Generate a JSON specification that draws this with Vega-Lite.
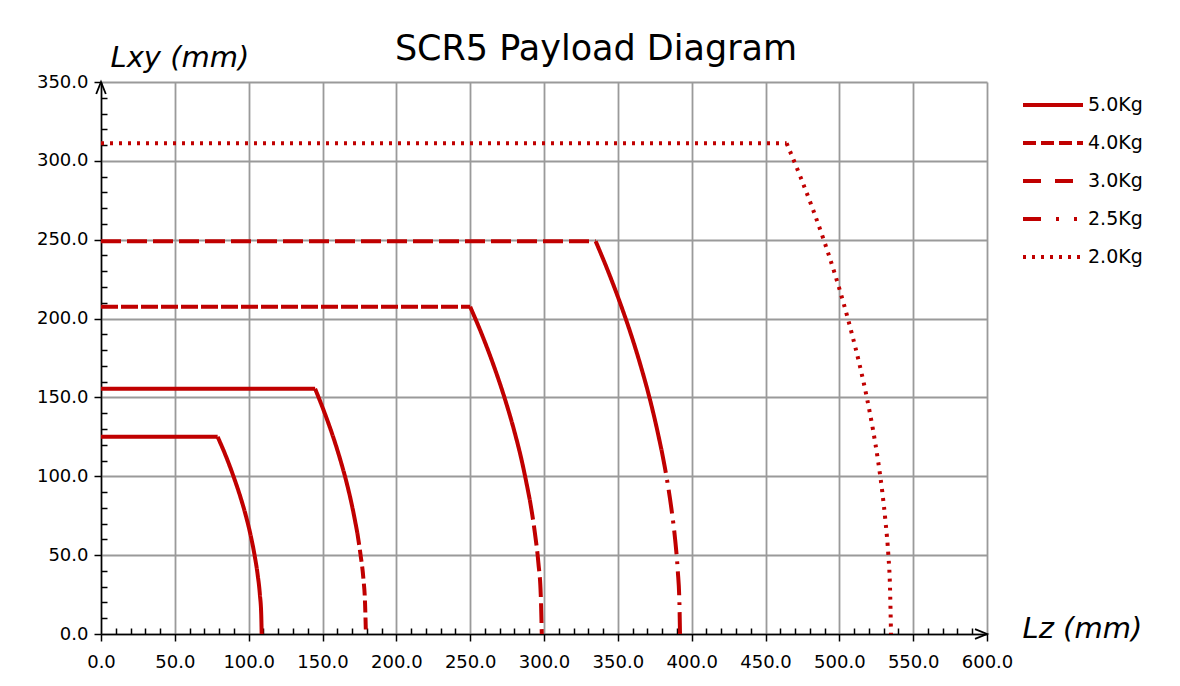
{
  "$schema": "https://vega.github.io/schema/vega-lite/v6.json",
  "width": 886,
  "height": 552,
  "autosize": {"type": "none"},
  "padding": {"left": 101, "top": 82, "right": 193, "bottom": 52},
  "background": "white",
  "title": {"text": "SCR5 Payload Diagram", "font": "DejaVu Sans", "fontSize": 35, "fontWeight": "normal", "color": "black", "anchor": "middle", "frame": "group", "dx": 52, "dy": 28, "baseline": "alphabetic", "offset": -24},
  "config": {
    "font": "DejaVu Sans",
    "view": {"stroke": null}
  },
  "layer": [
    {
      "data": {"values": [
        {"load": "5.0Kg", "part": "flat", "i": 0, "lz": 0, "lxy": 125},
        {"load": "5.0Kg", "part": "flat", "i": 1, "lz": 79, "lxy": 125},
        {"load": "5.0Kg", "part": "tail", "i": 1, "lz": 79, "lxy": 125},
        {"load": "5.0Kg", "part": "tail", "i": 2, "lz": 84.7, "lxy": 112.5},
        {"load": "5.0Kg", "part": "tail", "i": 3, "lz": 89.7, "lxy": 100},
        {"load": "5.0Kg", "part": "tail", "i": 4, "lz": 94.2, "lxy": 87.5},
        {"load": "5.0Kg", "part": "tail", "i": 5, "lz": 98.1, "lxy": 75},
        {"load": "5.0Kg", "part": "tail", "i": 6, "lz": 101.35, "lxy": 62.5},
        {"load": "5.0Kg", "part": "tail", "i": 7, "lz": 104.0, "lxy": 50},
        {"load": "5.0Kg", "part": "tail", "i": 8, "lz": 106.1, "lxy": 37.5},
        {"load": "5.0Kg", "part": "tail", "i": 9, "lz": 107.6, "lxy": 25},
        {"load": "5.0Kg", "part": "tail", "i": 10, "lz": 108.5, "lxy": 12.5},
        {"load": "5.0Kg", "part": "tail", "i": 11, "lz": 108.8, "lxy": 0},
        {"load": "4.0Kg", "part": "flat", "i": 0, "lz": 0, "lxy": 155.5},
        {"load": "4.0Kg", "part": "flat", "i": 1, "lz": 145, "lxy": 155.5},
        {"load": "4.0Kg", "part": "curve", "i": 1, "lz": 145, "lxy": 155.5},
        {"load": "4.0Kg", "part": "curve", "i": 2, "lz": 151.5, "lxy": 140},
        {"load": "4.0Kg", "part": "curve", "i": 3, "lz": 157.2, "lxy": 125},
        {"load": "4.0Kg", "part": "curve", "i": 4, "lz": 162.2, "lxy": 110},
        {"load": "4.0Kg", "part": "curve", "i": 5, "lz": 166.6, "lxy": 95},
        {"load": "4.0Kg", "part": "curve", "i": 6, "lz": 170.3, "lxy": 80},
        {"load": "4.0Kg", "part": "curve", "i": 7, "lz": 173.6, "lxy": 64},
        {"load": "4.0Kg", "part": "tail", "i": 7, "lz": 173.6, "lxy": 64},
        {"load": "4.0Kg", "part": "tail", "i": 8, "lz": 175.8, "lxy": 50},
        {"load": "4.0Kg", "part": "tail", "i": 9, "lz": 177.7, "lxy": 35},
        {"load": "4.0Kg", "part": "tail", "i": 10, "lz": 178.8, "lxy": 20},
        {"load": "4.0Kg", "part": "tail", "i": 11, "lz": 179.4, "lxy": 0},
        {"load": "3.0Kg", "part": "flat", "i": 0, "lz": 0, "lxy": 207.5},
        {"load": "3.0Kg", "part": "flat", "i": 1, "lz": 250, "lxy": 207.5},
        {"load": "3.0Kg", "part": "curve", "i": 1, "lz": 250, "lxy": 207.5},
        {"load": "3.0Kg", "part": "curve", "i": 2, "lz": 257.9, "lxy": 190},
        {"load": "3.0Kg", "part": "curve", "i": 3, "lz": 266.0, "lxy": 170},
        {"load": "3.0Kg", "part": "curve", "i": 4, "lz": 273.2, "lxy": 150},
        {"load": "3.0Kg", "part": "curve", "i": 5, "lz": 279.5, "lxy": 130},
        {"load": "3.0Kg", "part": "curve", "i": 6, "lz": 284.9, "lxy": 110},
        {"load": "3.0Kg", "part": "curve", "i": 7, "lz": 290.4, "lxy": 85},
        {"load": "3.0Kg", "part": "tail", "i": 7, "lz": 290.4, "lxy": 85},
        {"load": "3.0Kg", "part": "tail", "i": 8, "lz": 293.7, "lxy": 65},
        {"load": "3.0Kg", "part": "tail", "i": 9, "lz": 296.2, "lxy": 45},
        {"load": "3.0Kg", "part": "tail", "i": 10, "lz": 297.8, "lxy": 25},
        {"load": "3.0Kg", "part": "tail", "i": 11, "lz": 298.5, "lxy": 0},
        {"load": "2.5Kg", "part": "flat", "i": 0, "lz": 0, "lxy": 249},
        {"load": "2.5Kg", "part": "flat", "i": 1, "lz": 335, "lxy": 249},
        {"load": "2.5Kg", "part": "curve", "i": 1, "lz": 335, "lxy": 249},
        {"load": "2.5Kg", "part": "curve", "i": 2, "lz": 343.4, "lxy": 230},
        {"load": "2.5Kg", "part": "curve", "i": 3, "lz": 351.5, "lxy": 210},
        {"load": "2.5Kg", "part": "curve", "i": 4, "lz": 358.9, "lxy": 190},
        {"load": "2.5Kg", "part": "curve", "i": 5, "lz": 365.5, "lxy": 170},
        {"load": "2.5Kg", "part": "curve", "i": 6, "lz": 371.4, "lxy": 150},
        {"load": "2.5Kg", "part": "curve", "i": 7, "lz": 375.3, "lxy": 135},
        {"load": "2.5Kg", "part": "curve", "i": 8, "lz": 379.5, "lxy": 117},
        {"load": "2.5Kg", "part": "tail", "i": 8, "lz": 379.5, "lxy": 117},
        {"load": "2.5Kg", "part": "tail", "i": 9, "lz": 382.9, "lxy": 100},
        {"load": "2.5Kg", "part": "tail", "i": 10, "lz": 386.2, "lxy": 80},
        {"load": "2.5Kg", "part": "tail", "i": 11, "lz": 388.8, "lxy": 60},
        {"load": "2.5Kg", "part": "tail", "i": 12, "lz": 390.6, "lxy": 40},
        {"load": "2.5Kg", "part": "tail", "i": 13, "lz": 391.7, "lxy": 20},
        {"load": "2.5Kg", "part": "tail", "i": 14, "lz": 392.1, "lxy": 0},
        {"load": "2.0Kg", "part": "flat", "i": 0, "lz": 0, "lxy": 311.2},
        {"load": "2.0Kg", "part": "flat", "i": 1, "lz": 464.3, "lxy": 311.2},
        {"load": "2.0Kg", "part": "tail", "i": 1, "lz": 464.3, "lxy": 311.2},
        {"load": "2.0Kg", "part": "tail", "i": 2, "lz": 473.6, "lxy": 290},
        {"load": "2.0Kg", "part": "tail", "i": 3, "lz": 481.8, "lxy": 270},
        {"load": "2.0Kg", "part": "tail", "i": 4, "lz": 489.4, "lxy": 250},
        {"load": "2.0Kg", "part": "tail", "i": 5, "lz": 496.4, "lxy": 230},
        {"load": "2.0Kg", "part": "tail", "i": 6, "lz": 502.8, "lxy": 210},
        {"load": "2.0Kg", "part": "tail", "i": 7, "lz": 508.6, "lxy": 190},
        {"load": "2.0Kg", "part": "tail", "i": 8, "lz": 513.9, "lxy": 170},
        {"load": "2.0Kg", "part": "tail", "i": 9, "lz": 518.6, "lxy": 150},
        {"load": "2.0Kg", "part": "tail", "i": 10, "lz": 522.7, "lxy": 130},
        {"load": "2.0Kg", "part": "tail", "i": 11, "lz": 526.2, "lxy": 110},
        {"load": "2.0Kg", "part": "tail", "i": 12, "lz": 529.1, "lxy": 90},
        {"load": "2.0Kg", "part": "tail", "i": 13, "lz": 531.4, "lxy": 70},
        {"load": "2.0Kg", "part": "tail", "i": 14, "lz": 533.2, "lxy": 50},
        {"load": "2.0Kg", "part": "tail", "i": 15, "lz": 534.3, "lxy": 30},
        {"load": "2.0Kg", "part": "tail", "i": 16, "lz": 535, "lxy": 0}
      ]},
      "mark": {"type": "line", "color": "#c00000", "strokeWidth": 4, "strokeJoin": "round", "interpolate": "monotone", "clip": false},
      "encoding": {
        "x": {
          "field": "lz", "type": "quantitative",
          "scale": {"domain": [0, 600], "nice": false, "zero": false},
          "axis": {
            "values": [0,10,20,30,40,50,60,70,80,90,100,110,120,130,140,150,160,170,180,190,200,210,220,230,240,250,260,270,280,290,300,310,320,330,340,350,360,370,380,390,400,410,420,430,440,450,460,470,480,490,500,510,520,530,540,550,560,570,580,590,600],
            "tickCount": 200,
            "labelExpr": "datum.value % 50 === 0 ? format(datum.value, '.1f') : ''",
            "labelFont": "DejaVu Sans", "labelFontSize": 18, "labelColor": "black", "labelPadding": 12, "labelFlush": false, "labelOverlap": false,
            "domainColor": "black", "domainWidth": 1.5,
            "tickColor": "black", "tickWidth": 1.5,
            "tickSize": {"condition": {"test": "datum.value % 50 === 0", "value": 7}, "value": -6},
            "grid": true,
            "gridColor": "#9a9a9a", "gridWidth": 1.8,
            "gridOpacity": {"condition": {"test": "datum.value % 50 === 0", "value": 1}, "value": 0},
            "title": "Lz (mm)", "titleFont": "DejaVu Sans", "titleFontSize": 29, "titleFontStyle": "italic", "titleFontWeight": "normal", "titleColor": "black",
            "titleAnchor": "start", "titleAlign": "left", "titleBaseline": "alphabetic", "titleX": 921, "titleY": 3
          }
        },
        "y": {
          "field": "lxy", "type": "quantitative",
          "scale": {"domain": [0, 350], "nice": false, "zero": false},
          "axis": {
            "values": [0,10,20,30,40,50,60,70,80,90,100,110,120,130,140,150,160,170,180,190,200,210,220,230,240,250,260,270,280,290,300,310,320,330,340,350],
            "tickCount": 200,
            "labelExpr": "datum.value % 50 === 0 ? format(datum.value, '.1f') : ''",
            "labelFont": "DejaVu Sans", "labelFontSize": 18, "labelColor": "black", "labelPadding": 6, "labelFlush": false, "labelOverlap": false,
            "domainColor": "black", "domainWidth": 1.5,
            "tickColor": "black", "tickWidth": 1.5,
            "tickSize": {"condition": {"test": "datum.value % 50 === 0", "value": 7}, "value": -6},
            "grid": true,
            "gridColor": "#9a9a9a", "gridWidth": 1.8,
            "gridOpacity": {"condition": {"test": "datum.value % 50 === 0", "value": 1}, "value": 0},
            "title": "Lxy (mm)", "titleFont": "DejaVu Sans", "titleFontSize": 29, "titleFontStyle": "italic", "titleFontWeight": "normal", "titleColor": "black",
            "titleAngle": 0, "titleAnchor": "start", "titleAlign": "left", "titleBaseline": "alphabetic", "titleX": 9, "titleY": -16
          }
        },
        "detail": {"field": "part"},
        "order": {"field": "i", "type": "quantitative"},
        "strokeDash": {
          "condition": [
            {"test": "datum.part === 'curve' || (datum.load === '4.0Kg' && datum.part === 'flat')", "value": [1, 0]},
            {"test": "datum.load === '3.0Kg' && datum.part === 'flat'", "value": [17, 3]},
            {"test": "datum.load === '2.5Kg' && datum.part === 'flat'", "value": [20, 6]},
            {"test": "datum.load === '3.0Kg' && datum.part === 'tail'", "value": [20, 6]},
            {"test": "datum.load === '2.5Kg' && datum.part === 'tail'", "value": [24, 7, 3, 7]},
            {"test": "datum.load === '4.0Kg' && datum.part === 'tail'", "value": [12, 5]}
          ],
          "field": "load", "type": "nominal",
          "scale": {
            "domain": ["5.0Kg", "4.0Kg", "3.0Kg", "2.5Kg", "2.0Kg"],
            "range": [[1, 0], [13, 5], [18, 14], [18, 15, 3, 15, 3, 15], [3, 6]]
          },
          "legend": {
            "title": null, "orient": "none", "legendX": 920, "legendY": 4,
            "symbolType": "stroke", "symbolSize": 3600, "symbolStrokeWidth": 4, "symbolStrokeColor": "#c00000",
            "labelFont": "DejaVu Sans", "labelFontSize": 19, "labelColor": "black", "labelOffset": 3,
            "clipHeight": 38, "rowPadding": 0
          }
        }
      }
    },
    {
      "data": {"values": [{}]},
      "mark": {"type": "point", "shape": "M-0.8,2L0,0L0.8,2", "size": 144, "filled": false, "stroke": "black", "strokeWidth": 1.8, "opacity": 1, "clip": false},
      "encoding": {"x": {"datum": 0, "type": "quantitative"}, "y": {"datum": 350, "type": "quantitative"}}
    },
    {
      "data": {"values": [{}]},
      "mark": {"type": "point", "shape": "M-2,-0.8L0,0L-2,0.8", "size": 144, "filled": false, "stroke": "black", "strokeWidth": 1.8, "opacity": 1, "clip": false},
      "encoding": {"x": {"datum": 600, "type": "quantitative"}, "y": {"datum": 0, "type": "quantitative"}}
    }
  ]
}
